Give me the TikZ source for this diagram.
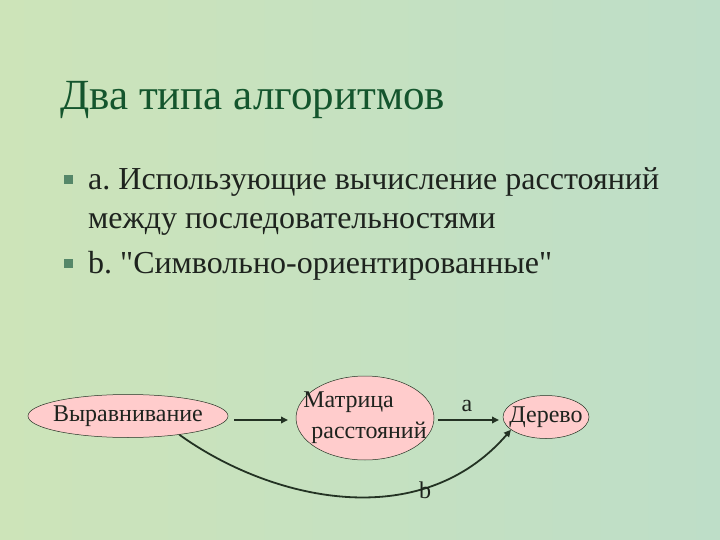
\documentclass[tikz,border=0pt]{standalone}
\usepackage{fontspec}
\setmainfont{Liberation Serif}[Ligatures=TeXOff]
\usetikzlibrary{shapes.geometric,arrows.meta}
\frenchspacing
\definecolor{bgA}{RGB}{205,228,185}
\definecolor{bgB}{RGB}{190,222,200}
\definecolor{titlecol}{RGB}{20,85,45}
\definecolor{txt}{RGB}{30,35,30}
\definecolor{bul}{RGB}{85,135,105}
\definecolor{pinkfill}{RGB}{255,204,204}
\definecolor{linecol}{RGB}{35,50,35}
\tikzset{
  oval/.style={ellipse, draw=linecol, fill=pinkfill, line width=0.5pt, font=\fontsize{24}{30}\selectfont, text=txt, align=center},
  conn/.style={draw=linecol, line width=1.8pt, -{Triangle[length=7pt,width=6.5pt]}},
  lbl/.style={font=\fontsize{24}{26}\selectfont, text=txt},
  bullettext/.style={anchor=base west, font=\fontsize{32}{40}\selectfont, text=txt, align=left, inner sep=0pt},
  bulletmark/.style={fill=bul, minimum size=9pt, inner sep=0pt}
}
\begin{document}
\begin{tikzpicture}[x=1pt,y=-1pt]
\useasboundingbox (0,0) rectangle (720,540);
\shade[left color=bgA, right color=bgB] (0,0) rectangle (720,540);
\node[anchor=base west, font=\fontsize{43}{48}\selectfont, text=titlecol, inner sep=0pt] (title) at (60,110) {Два типа алгоритмов};
\node[bulletmark] (b1) at (68.5,179.5) {};
\node[bullettext] (t1) at (88,190) {a. Использующие вычисление расстояний};
\node[bullettext] (t1b) at (88,229) {между последовательностями};
\node[bulletmark] (b2) at (68.5,263) {};
\node[bullettext] (t2) at (88,273) {b. "Символьно-ориентированные"};
\node[oval, inner xsep=-8pt, inner ysep=-6pt, minimum width=200pt, minimum height=43pt] (align) at (128,416) {Выравнивание};
\node[oval, inner xsep=-18pt, inner ysep=-4pt, minimum width=138pt, minimum height=84pt, align=left, font=\fontsize{24}{31}\selectfont] (matrix) at (365,418) {Матрица\\\hspace*{8pt}расстояний};
\node[oval, inner xsep=-10pt, inner ysep=-6pt, minimum width=86pt, minimum height=43pt] (tree) at (546,417) {Дерево};
\draw[conn] (234,420) coordinate (s1) -- (288,420) coordinate (e1);
\draw[conn] (438,420) coordinate (s2) -- (499,420) coordinate (e2);
\node[lbl] (la) at (467,406) {a};
\draw[conn] (align.-20) .. controls (270,500) and (420,535) .. (tree.200);
\node[lbl] (lb) at (425,490) {b};
\end{tikzpicture}
\end{document}
